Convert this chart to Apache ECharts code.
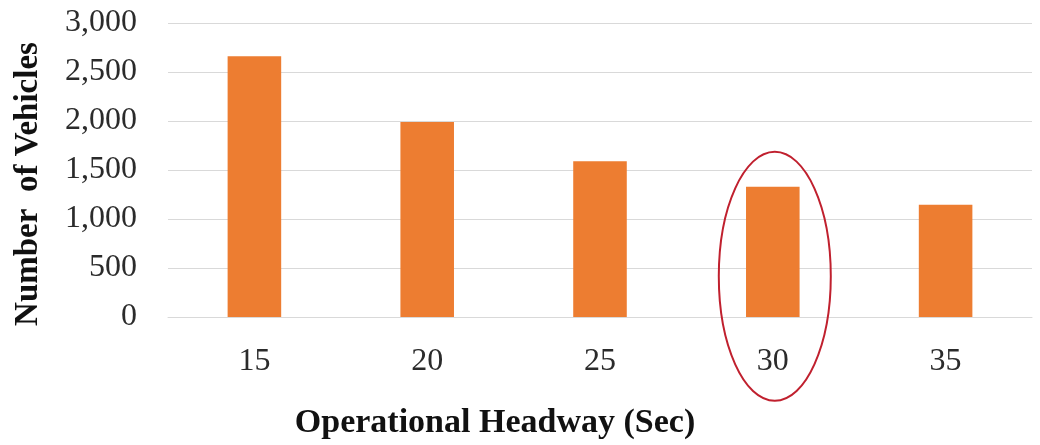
<!DOCTYPE html>
<html>
<head>
<meta charset="utf-8">
<script src="https://cdn.jsdelivr.net/npm/echarts@6/dist/echarts.min.js"></script>
<style>html,body{margin:0;padding:0;background:#fff;}#c{width:1040px;height:445px;}</style>
</head>
<body>
<div id="c"></div>
<script>
const categories = ['15', '20', '25', '30', '35'];
const vehicles = [2660, 1990, 1590, 1330, 1145];
const yTicks = [0, 500, 1000, 1500, 2000, 2500, 3000];
const highlighted = '30';

const chart = echarts.init(document.getElementById('c'), null, {renderer: 'canvas'});
const serif = '"Liberation Serif", "Times New Roman", serif';
chart.setOption({
  animation: false,
  backgroundColor: '#fff',
  grid: {left: 168, right: 8, top: 23, bottom: 123, containLabel: false},
  xAxis: {
    type: 'category',
    data: categories,
    axisLine: {show: true, lineStyle: {color: '#d9d9d9', width: 1}},
    axisTick: {show: false},
    axisLabel: {fontFamily: serif, fontSize: 32, color: '#2b2b2b', margin: 29},
    name: 'Operational Headway (Sec)',
    nameLocation: 'middle',
    nameGap: 89,
    nameTextStyle: {fontFamily: serif, fontSize: 34, fontWeight: 'bold', color: '#111', padding: [0, 210, 0, 0]}
  },
  yAxis: {
    type: 'value',
    min: yTicks[0],
    max: yTicks[yTicks.length - 1],
    interval: yTicks[1] - yTicks[0],
    axisLine: {show: false},
    axisTick: {show: false},
    splitLine: {lineStyle: {color: '#d9d9d9', width: 1}},
    axisLabel: {
      fontFamily: serif, fontSize: 32, color: '#2b2b2b', margin: 31,
      formatter: v => v.toLocaleString('en-US')
    },
    name: 'Number  of Vehicles',
    nameLocation: 'middle',
    nameRotate: 90,
    nameGap: 123,
    nameTextStyle: {fontFamily: serif, fontSize: 33, fontWeight: 'bold', color: '#111', padding: [0, 0, 0, -28]}
  },
  series: [{
    type: 'bar',
    data: vehicles,
    barWidth: '31%',
    itemStyle: {color: '#ED7D31'}
  }]
});

// annotation ellipse around the highlighted category
const c = chart.convertToPixel({seriesIndex: 0}, [highlighted, 415]);
chart.setOption({
  graphic: [{
    type: 'ellipse',
    shape: {cx: c[0] + 2, cy: c[1], rx: 56, ry: 124.5},
    style: {fill: 'none', stroke: '#c0202e', lineWidth: 2},
    z: 100
  }]
});
</script>
</body>
</html>
